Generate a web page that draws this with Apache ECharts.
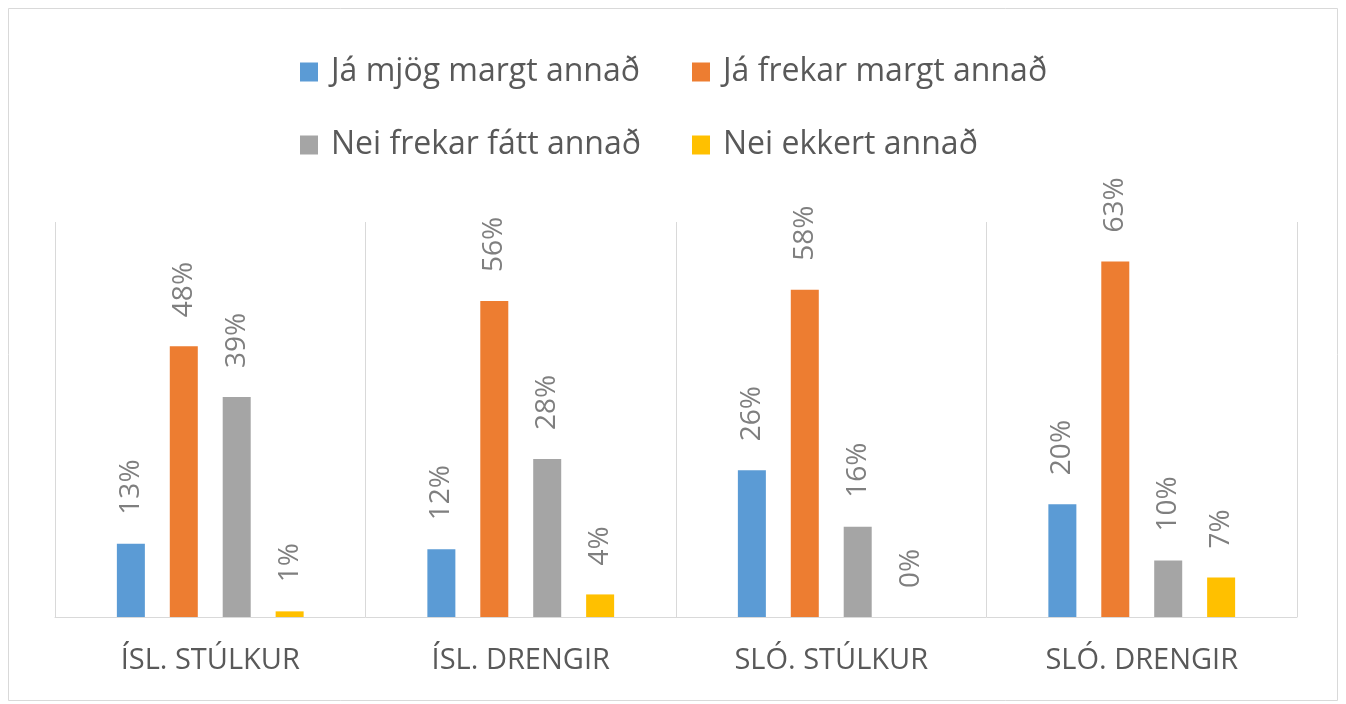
<!DOCTYPE html>
<html>
<head>
<meta charset="utf-8">
<script src="https://cdn.jsdelivr.net/npm/echarts@6/dist/echarts.min.js"></script>
<style>html,body{margin:0;padding:0;background:#fff}#c{width:1346px;height:704px}</style>
</head>
<body>
<div id="c"></div>
<script>
const categories = ['ÍSL. STÚLKUR', 'ÍSL. DRENGIR', 'SLÓ. STÚLKUR', 'SLÓ. DRENGIR'];
const seriesNames = ['Já mjög margt annað', 'Já frekar margt annað', 'Nei frekar fátt annað', 'Nei ekkert annað'];
const mjogMargt = [13, 12, 26, 20];
const frekarMargt = [48, 56, 58, 63];
const frekarFatt = [39, 28, 16, 10];
const ekkert = [1, 4, 0, 7];
const colors = ['#5B9BD5', '#ED7D31', '#A5A5A5', '#FFC000'];

const FONT = '"Open Sans"';
const values = [mjogMargt, frekarMargt, frekarFatt, ekkert];

const legendPos = [
  {left: 300, top: 55},
  {left: 692, top: 55},
  {left: 300, top: 128},
  {left: 692, top: 128}
];

const chart = echarts.init(document.getElementById('c'));
chart.setOption({
  animation: false,
  backgroundColor: '#fff',
  graphic: [{
    type: 'rect', shape: {x: 8.5, y: 8.5, width: 1329, height: 692},
    style: {fill: 'none', stroke: '#d9d9d9', lineWidth: 1}, silent: true
  }],
  legend: seriesNames.map((n, i) => ({
    data: [n],
    left: legendPos[i].left, top: legendPos[i].top,
    icon: 'rect', itemWidth: 18, itemHeight: 19,
    padding: 0,
    textStyle: {fontFamily: FONT, fontSize: 32, color: '#595959', padding: [0, 0, 0, 8], lineHeight: 34}
  })),
  grid: {left: 55, right: 49, top: 222, bottom: 87, containLabel: false},
  xAxis: {
    type: 'category', data: categories,
    axisLine: {show: true, lineStyle: {color: '#d9d9d9', width: 1}},
    axisTick: {show: false},
    splitLine: {show: true, lineStyle: {color: '#d9d9d9', width: 1}},
    axisLabel: {fontFamily: FONT, fontSize: 29, color: '#595959', margin: 29}
  },
  yAxis: {
    type: 'value', min: 0, max: 70, interval: 10,
    show: false, splitLine: {show: false}
  },
  series: seriesNames.map((n, i) => ({
    name: n, type: 'bar', data: values[i],
    barWidth: 28, barGap: '89%',
    itemStyle: {color: colors[i]},
    label: {
      show: true, position: 'top', distance: 29, rotate: 90,
      align: 'left', verticalAlign: 'middle',
      formatter: p => p.value + '%',
      fontFamily: FONT, fontSize: 28, color: '#7f7f7f'
    }
  }))
});
</script>
</body>
</html>
